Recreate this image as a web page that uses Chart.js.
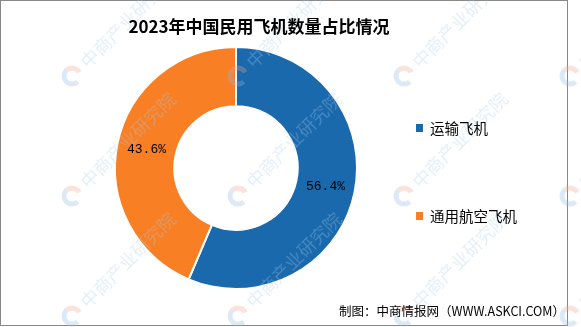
<!DOCTYPE html>
<html>
<head>
<meta charset="utf-8">
<script src="https://cdn.jsdelivr.net/npm/chart.js@4/dist/chart.umd.min.js"></script>
<style>
    body { margin: 0; background: #fff; }
    #frame { position: absolute; left: 0; top: 0; width: 568px; height: 326px; border: 1px solid #888; box-sizing: border-box; }
    #myChart { position: absolute; left: 0; top: 0; }
</style>
</head>
<body>
<div id="frame"></div>
<canvas id="myChart" width="581" height="327"></canvas>
<script>
const titleText = '2023年中国民用飞机数量占比情况';
const categories = ['运输飞机', '通用航空飞机'];
const shares = [56.4, 43.6];
const colors = ['#1a69ad', '#f97f25'];
const sourceText = '制图：中商情报网（WWW.ASKCI.COM）';
const watermarkText = '中商产业研究院';

// faint diagonal watermark tiles, drawn over the ring
const watermarkPlugin = {
    id: 'watermark',
    afterDatasetsDraw(chart) {
        const ctx = chart.ctx;
        const xs = [72, 238, 404, 570];
        const ys = [76, 196, 316];
        ctx.save();
        ys.forEach(y => {
            xs.forEach(x => {
                ctx.save();
                ctx.translate(x, y);
                ctx.rotate(-Math.PI / 4);
                ctx.globalAlpha = 0.3;
                ctx.lineWidth = 5;
                ctx.strokeStyle = '#8fb8de';
                ctx.beginPath();
                ctx.arc(0, 0, 8, Math.PI * 0.5, Math.PI * 1.5);
                ctx.stroke();
                ctx.strokeStyle = '#f0a090';
                ctx.beginPath();
                ctx.arc(0, 0, 8, -Math.PI * 0.5, Math.PI * 0.1);
                ctx.stroke();
                ctx.fillStyle = '#a9cbe8';
                ctx.font = '18px "Noto Sans CJK SC"';
                ctx.textBaseline = 'middle';
                ctx.fillText(watermarkText, 16, 0);
                ctx.restore();
            });
        });
        ctx.restore();
    }
};

// percent labels, title, legend and source line
const decorPlugin = {
    id: 'decor',
    afterDraw(chart) {
        const ctx = chart.ctx;
        const meta = chart.getDatasetMeta(0);
        ctx.save();
        ctx.fillStyle = '#000';
        ctx.textAlign = 'center';
        ctx.textBaseline = 'middle';
        ctx.font = '13px "Liberation Mono"';
        meta.data.forEach((arc, i) => {
            const p = arc.tooltipPosition();
            ctx.fillText(shares[i].toFixed(1) + '%', p.x, p.y);
        });

        ctx.font = 'bold 17px "Noto Sans CJK SC"';
        ctx.fillText(titleText, 259, 27);

        ctx.textAlign = 'left';
        ctx.font = '14.5px "Noto Sans CJK SC"';
        const legendY = [128, 216];
        categories.forEach((c, i) => {
            ctx.fillStyle = colors[i];
            ctx.fillRect(416, legendY[i] - 4, 7, 8);
            ctx.fillStyle = '#000';
            ctx.fillText(c, 430, legendY[i]);
        });

        ctx.textAlign = 'right';
        ctx.font = '12.5px "Noto Sans CJK SC"';
        ctx.fillText(sourceText, 565, 311);
        ctx.restore();
    }
};

const ctx = document.getElementById('myChart').getContext('2d');
window.myChart = new Chart(ctx, {
    type: 'doughnut',
    data: {
        labels: categories,
        datasets: [{
            data: shares,
            backgroundColor: colors,
            borderColor: '#fff',
            borderWidth: 2
        }]
    },
    options: {
        responsive: false,
        animation: false,
        cutout: '51%',
        layout: {
            padding: { left: 114, right: 223, top: 46, bottom: 37 }
        },
        plugins: {
            legend: { display: false },
            title: { display: false },
            tooltip: { enabled: false }
        }
    },
    plugins: [watermarkPlugin, decorPlugin]
});
</script>
</body>
</html>
